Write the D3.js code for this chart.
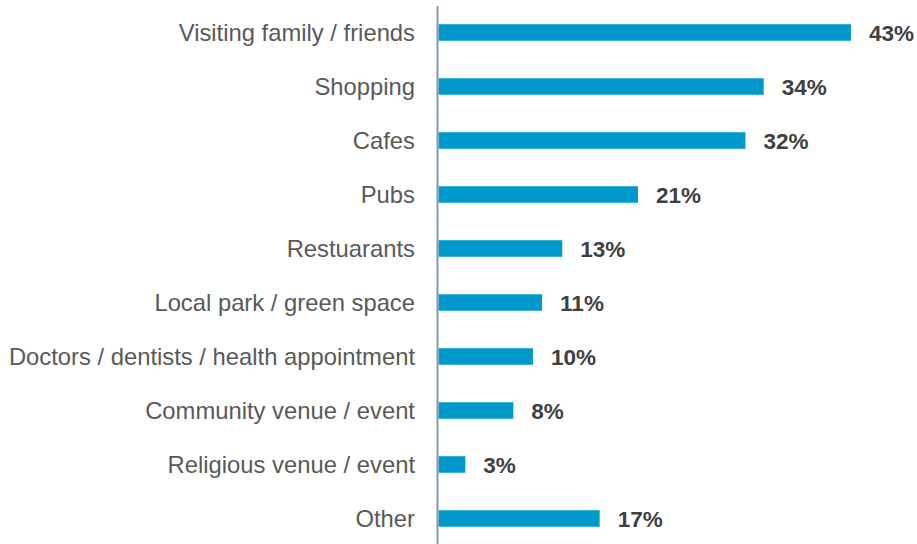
<!DOCTYPE html>
<html><head><meta charset="utf-8">
<script src="https://cdn.jsdelivr.net/npm/d3@7/dist/d3.min.js"></script>
<style>
html,body{margin:0;padding:0;background:#fff;}
svg{display:block;font-family:"Liberation Sans",Arial,sans-serif;}
</style></head>
<body>
<svg id="chart" width="917" height="544"></svg>
<script>
const categories = ["Visiting family / friends","Shopping","Cafes","Pubs","Restuarants","Local park / green space","Doctors / dentists / health appointment","Community venue / event","Religious venue / event","Other"];
const values = [43, 33.9, 32, 20.8, 12.9, 10.8, 9.85, 7.8, 2.8, 16.8];
const valueLabels = ["43%","34%","32%","21%","13%","11%","10%","8%","3%","17%"];

const svg = d3.select("#chart");
const x0 = 438.5;
const x = d3.scaleLinear().domain([0, 43]).range([x0, 851]);
const y = d3.scaleBand().domain(categories).range([5.5, 545.5]).paddingInner(0.694).paddingOuter(0.347);

svg.append("g").selectAll("rect").data(categories).join("rect")
  .attr("x", x(0))
  .attr("y", d => y(d))
  .attr("width", (d,i) => x(values[i]) - x(0))
  .attr("height", y.bandwidth())
  .attr("fill", "#0099CC");

const axis = svg.append("g").attr("transform", `translate(${x0-1.5},0)`)
  .call(d3.axisLeft(y).tickSize(0).tickPadding(22));
axis.select(".domain").attr("stroke", "#8497B0").attr("stroke-width", 2);
axis.selectAll("text").attr("font-size", 23.8).attr("fill", "#595959")
  .attr("font-family", "'Liberation Sans', Arial, sans-serif").attr("dy", "0.35em");

svg.append("g").selectAll("text").data(categories).join("text")
  .attr("x", (d,i) => x(values[i]) + 18)
  .attr("y", d => y(d) + y.bandwidth()/2)
  .attr("dy", "0.36em")
  .attr("font-size", 22.5).attr("font-weight", "bold").attr("fill", "#404040")
  .text((d,i) => valueLabels[i]);
</script>
</body></html>
